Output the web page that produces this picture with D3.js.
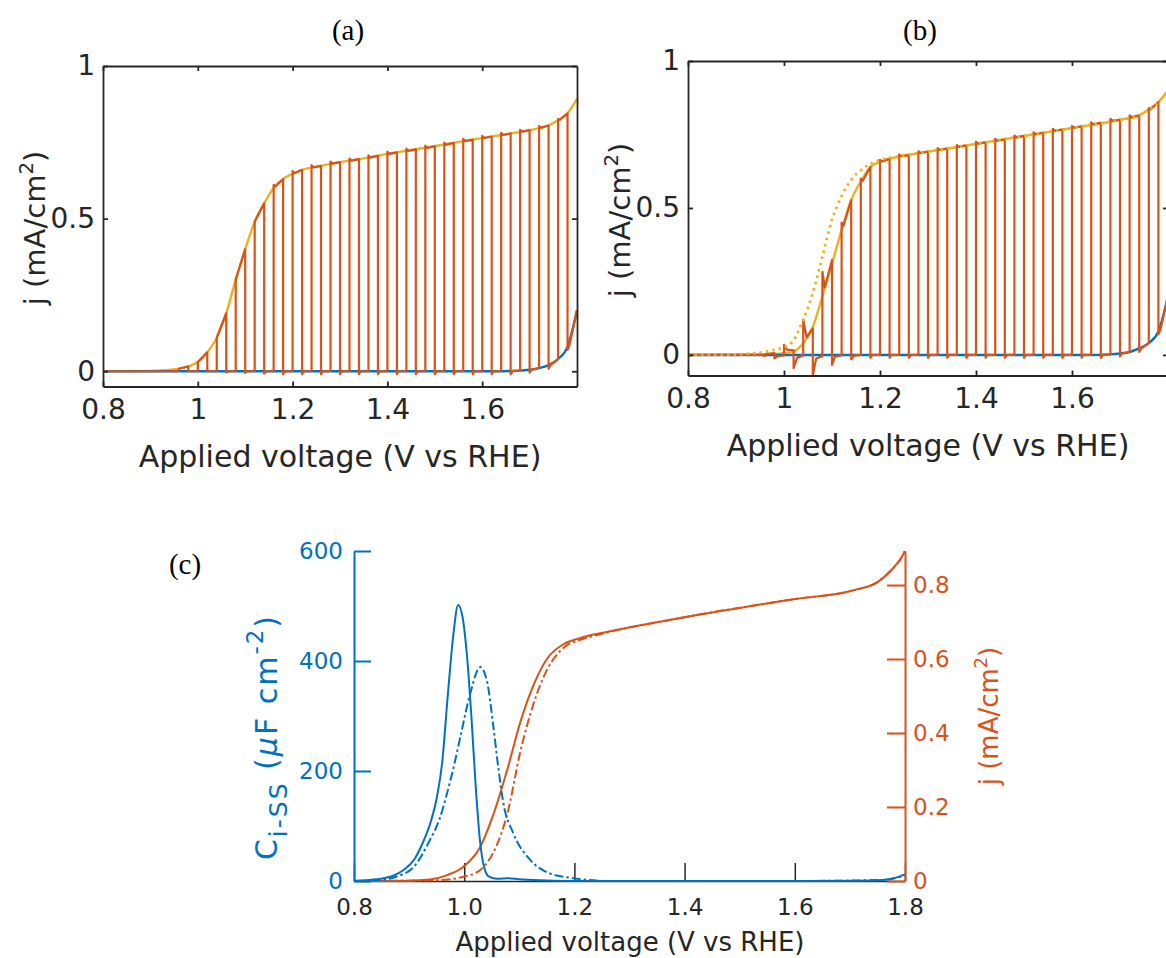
<!DOCTYPE html>
<html>
<head>
<meta charset="utf-8">
<script src="https://cdn.jsdelivr.net/npm/d3@7"></script>
<style>
  body { margin: 0; background: #fff; }
  text { font-family: "DejaVu Sans", "Liberation Sans", sans-serif; }
</style>
</head>
<body>
<svg id="fig" width="1166" height="958"></svg>
<script>
// ---------- Panel (a): chopped-light LSV ----------
const voltA  = [0.80, 0.90, 0.94, 0.96, 0.98, 1.00, 1.02, 1.04, 1.06, 1.08, 1.10, 1.12, 1.14, 1.16, 1.18, 1.20, 1.22, 1.26, 1.30, 1.36, 1.40, 1.48, 1.56, 1.64, 1.70, 1.74, 1.76, 1.78, 1.80];
const lightA = [0, 0.001, 0.004, 0.008, 0.016, 0.03, 0.062, 0.11, 0.19, 0.30, 0.40, 0.49, 0.55, 0.60, 0.63, 0.647, 0.66, 0.673, 0.685, 0.70, 0.712, 0.732, 0.754, 0.774, 0.79, 0.805, 0.822, 0.845, 0.892];
const darkVoltA = [0.80, 1.62, 1.68, 1.70, 1.72, 1.74, 1.76, 1.78, 1.80];
const darkA     = [0, 0, 0.002, 0.005, 0.01, 0.02, 0.04, 0.08, 0.2];
// chopped illumination trace, [V, j] samples
const chopA = [
  [0.80,0],[0.96,0],[0.96,0.008],[0.98,0.016],[0.98,0],
  [1.00,0],[1.00,0.03],[1.02,0.062],[1.02,0],
  [1.04,0],[1.04,0.11],[1.06,0.19],[1.06,-0.004],[1.064,0],
  [1.08,0],[1.08,0.30],[1.10,0.40],[1.10,-0.006],[1.104,0],
  [1.12,0],[1.12,0.49],[1.14,0.55],[1.14,-0.008],[1.144,0],
  [1.16,0],[1.16,0.61],[1.164,0.606],[1.18,0.63],[1.18,-0.01],[1.184,0],
  [1.20,0],[1.20,0.656],[1.204,0.649],[1.22,0.66],[1.22,-0.01],[1.224,0],
  [1.24,0],[1.24,0.675],[1.244,0.668],[1.26,0.673],[1.26,-0.01],[1.264,0],
  [1.28,0],[1.28,0.687],[1.284,0.68],[1.30,0.685],[1.30,-0.01],[1.304,0],
  [1.32,0],[1.32,0.697],[1.324,0.69],[1.34,0.695],[1.34,-0.01],[1.344,0],
  [1.36,0],[1.36,0.707],[1.364,0.70],[1.38,0.706],[1.38,-0.01],[1.384,0],
  [1.40,0],[1.40,0.719],[1.404,0.712],[1.42,0.717],[1.42,-0.01],[1.424,0],
  [1.44,0],[1.44,0.729],[1.444,0.722],[1.46,0.727],[1.46,-0.01],[1.464,0],
  [1.48,0],[1.48,0.739],[1.484,0.732],[1.50,0.737],[1.50,-0.01],[1.504,0],
  [1.52,0],[1.52,0.749],[1.524,0.742],[1.54,0.748],[1.54,-0.01],[1.544,0],
  [1.56,0],[1.56,0.761],[1.564,0.754],[1.58,0.759],[1.58,-0.01],[1.584,0],
  [1.60,0],[1.60,0.771],[1.604,0.764],[1.62,0.769],[1.62,-0.01],[1.624,0],
  [1.64,0],[1.64,0.781],[1.644,0.774],[1.66,0.779],[1.66,-0.01],[1.664,0.001],
  [1.68,0.002],[1.68,0.791],[1.684,0.785],[1.70,0.79],[1.70,-0.005],[1.704,0.005],
  [1.72,0.01],[1.72,0.803],[1.724,0.798],[1.74,0.805],[1.74,0.008],[1.744,0.02],
  [1.76,0.04],[1.76,0.826],[1.764,0.824],[1.78,0.845],[1.78,0.07],[1.784,0.085],
  [1.80,0.2]
];

// ---------- Panel (b): chopped-light LSV with transients ----------
const voltB  = [0.80, 0.94, 0.98, 1.00, 1.02, 1.04, 1.06, 1.08, 1.10, 1.12, 1.14, 1.16, 1.18, 1.20, 1.24, 1.28, 1.34, 1.40, 1.50, 1.60, 1.70, 1.74, 1.76, 1.78, 1.80];
const lightB = [0, 0.001, 0.003, 0.006, 0.012, 0.04, 0.095, 0.2, 0.31, 0.425, 0.527, 0.59, 0.64, 0.657, 0.675, 0.686, 0.702, 0.718, 0.745, 0.772, 0.80, 0.815, 0.835, 0.86, 0.9];
const modelVoltB = [0.80, 0.90, 0.94, 0.96, 0.98, 1.00, 1.02, 1.04, 1.06, 1.08, 1.10, 1.12, 1.14, 1.165, 1.20, 1.24, 1.30, 1.40, 1.50, 1.60, 1.70, 1.74, 1.76, 1.78, 1.80];
const modelB     = [0, 0.002, 0.006, 0.01, 0.017, 0.026, 0.05, 0.12, 0.21, 0.335, 0.46, 0.54, 0.595, 0.635, 0.663, 0.676, 0.692, 0.718, 0.745, 0.772, 0.80, 0.815, 0.835, 0.86, 0.9];
const darkVoltB = [0.80, 1.64, 1.68, 1.70, 1.72, 1.74, 1.76, 1.78, 1.80];
const darkB     = [0, 0, 0.002, 0.005, 0.01, 0.022, 0.04, 0.08, 0.2];
const chopB = [
  [0.80,0],[0.955,0],[0.96,-0.004],[0.962,0.003],[0.98,0.006],[0.98,-0.012],[0.986,-0.004],[1.00,-0.002],
  [1.00,0.034],[1.006,0.018],[1.02,0.016],[1.02,-0.045],[1.027,-0.01],[1.04,-0.002],
  [1.04,0.12],[1.047,0.06],[1.06,0.09],[1.06,-0.068],[1.067,-0.012],[1.08,-0.004],
  [1.08,0.283],[1.085,0.23],[1.10,0.323],[1.10,-0.034],[1.106,-0.006],[1.12,-0.002],
  [1.12,0.45],[1.124,0.44],[1.14,0.527],[1.14,-0.015],[1.145,-0.003],[1.16,0],
  [1.16,0.6],[1.164,0.592],[1.18,0.64],[1.18,-0.01],[1.184,0],
  [1.20,0],[1.20,0.664],[1.204,0.658],[1.22,0.667],[1.22,-0.01],[1.224,0],
  [1.24,0],[1.24,0.682],[1.244,0.676],[1.26,0.68],[1.26,-0.01],[1.264,0],
  [1.28,0],[1.28,0.693],[1.284,0.687],[1.30,0.692],[1.30,-0.01],[1.304,0],
  [1.32,0],[1.32,0.704],[1.324,0.698],[1.34,0.702],[1.34,-0.01],[1.344,0],
  [1.36,0],[1.36,0.714],[1.364,0.708],[1.38,0.713],[1.38,-0.01],[1.384,0],
  [1.40,0],[1.40,0.725],[1.404,0.719],[1.42,0.723],[1.42,-0.01],[1.424,0],
  [1.44,0],[1.44,0.735],[1.444,0.729],[1.46,0.733],[1.46,-0.01],[1.464,0],
  [1.48,0],[1.48,0.746],[1.484,0.74],[1.50,0.745],[1.50,-0.01],[1.504,0],
  [1.52,0],[1.52,0.757],[1.524,0.751],[1.54,0.756],[1.54,-0.01],[1.544,0],
  [1.56,0],[1.56,0.769],[1.564,0.763],[1.58,0.767],[1.58,-0.01],[1.584,0],
  [1.60,0],[1.60,0.779],[1.604,0.773],[1.62,0.778],[1.62,-0.01],[1.624,0],
  [1.64,0],[1.64,0.791],[1.644,0.785],[1.66,0.79],[1.66,-0.01],[1.664,0.001],
  [1.68,0.002],[1.68,0.803],[1.684,0.797],[1.70,0.80],[1.70,-0.005],[1.704,0.005],
  [1.72,0.01],[1.72,0.815],[1.724,0.809],[1.74,0.815],[1.74,0.01],[1.744,0.022],
  [1.76,0.04],[1.76,0.84],[1.764,0.836],[1.78,0.86],[1.78,0.07],[1.784,0.085],
  [1.80,0.2]
];

// ---------- Panel (c): steady-state capacitance and current ----------
const voltC = [0.80, 0.84, 0.87, 0.89, 0.91, 0.925, 0.94, 0.95, 0.96, 0.97, 0.98, 0.989, 0.997, 1.005, 1.013, 1.021, 1.029, 1.037, 1.045, 1.06, 1.08, 1.10, 1.15, 1.20, 1.60, 1.72, 1.76, 1.78, 1.80];
const capC  = [0, 3, 9, 20, 40, 70, 110, 150, 215, 335, 445, 502, 480, 410, 300, 170, 70, 22, 8, 4, 5, 3, 1, 0, 0, 0.5, 2, 5, 12];
const capModelVoltC = [0.80, 0.85, 0.88, 0.908, 0.938, 0.955, 0.969, 0.982, 0.993, 1.011, 1.029, 1.041, 1.053, 1.062, 1.071, 1.089, 1.12, 1.15, 1.198, 1.265, 1.60, 1.76, 1.80];
const capModelC     = [0, 2, 9, 25, 75, 112, 160, 212, 262, 341, 389, 365, 280, 205, 142, 87, 38, 16, 5, 0, 0, 2, 10];
const jVoltC = [0.80, 0.90, 0.938, 0.969, 0.998, 1.029, 1.053, 1.078, 1.102, 1.126, 1.15, 1.18, 1.211, 1.265, 1.40, 1.60, 1.707, 1.75, 1.775, 1.793, 1.80];
const jC     = [0, 0.001, 0.004, 0.016, 0.038, 0.092, 0.18, 0.30, 0.43, 0.53, 0.60, 0.64, 0.657, 0.675, 0.713, 0.762, 0.786, 0.808, 0.84, 0.873, 0.892];
const jModelVoltC = [0.80, 0.95, 1.00, 1.029, 1.06, 1.078, 1.102, 1.126, 1.15, 1.18, 1.211, 1.25, 1.40, 1.60, 1.707, 1.75, 1.775, 1.793, 1.80];
const jModelC     = [0, 0.002, 0.012, 0.03, 0.10, 0.18, 0.35, 0.48, 0.57, 0.63, 0.652, 0.668, 0.713, 0.762, 0.786, 0.808, 0.84, 0.873, 0.892];

// ---------- tick labels ----------
const tickVoltAB = [0.8, 1, 1.2, 1.4, 1.6];
const tickJAB    = [0, 0.5, 1];
const tickVoltC  = [0.8, 1.0, 1.2, 1.4, 1.6, 1.8];
const tickCapC   = [0, 200, 400, 600];
const tickJC     = [0, 0.2, 0.4, 0.6, 0.8];

const BLUE = "#0072BD", ORANGE = "#D95319", YELLOW = "#EDB120", INK = "#262626";
const zip = (xs, ys) => xs.map((v, i) => [v, ys[i]]);

const svg = d3.select("#fig");
svg.append("rect").attr("width", 1166).attr("height", 958).attr("fill", "#fff");

function styleAxis(sel, color, fontSize, width) {
  sel.attr("font-family", null).attr("font-size", null);
  sel.select(".domain").attr("stroke", color).attr("stroke-width", width);
  sel.selectAll(".tick line").attr("stroke", color).attr("stroke-width", width);
  sel.selectAll(".tick text").attr("fill", color).style("font-size", fontSize + "px");
}

function boxPanel(id, x, y) {
  const g = svg.append("g");
  const [x0, x1] = x.range(), [y0, y1] = y.range();
  g.append("clipPath").attr("id", id).append("rect")
    .attr("x", x0).attr("y", y1).attr("width", x1 - x0).attr("height", y0 - y1);
  const plot = g.append("g").attr("clip-path", `url(#${id})`);
  const axes = g.append("g");
  const fmt = d => String(d);
  axes.append("g").attr("transform", `translate(0,${y0})`)
    .call(d3.axisBottom(x).tickValues(tickVoltAB).tickFormat(fmt).tickSizeInner(-5).tickSizeOuter(0).tickPadding(13))
    .call(s => styleAxis(s, INK, 28, 1.8));
  axes.append("g").attr("transform", `translate(0,${y1})`)
    .call(d3.axisTop(x).tickValues(tickVoltAB).tickFormat("").tickSizeInner(-5).tickSizeOuter(0))
    .call(s => styleAxis(s, INK, 28, 1.8));
  axes.append("g").attr("transform", `translate(${x0},0)`)
    .call(d3.axisLeft(y).tickValues(tickJAB).tickFormat(fmt).tickSizeInner(-5).tickSizeOuter(0).tickPadding(8))
    .call(s => styleAxis(s, INK, 28, 1.8));
  axes.append("g").attr("transform", `translate(${x1},0)`)
    .call(d3.axisRight(y).tickValues(tickJAB).tickFormat("").tickSizeInner(-5).tickSizeOuter(0))
    .call(s => styleAxis(s, INK, 28, 1.8));
  return plot;
}

function drawLine(g, pts, x, y, color, width, curve, dash) {
  const p = g.append("path")
    .attr("d", d3.line().x(d => x(d[0])).y(d => y(d[1])).curve(curve)(pts))
    .attr("fill", "none").attr("stroke", color).attr("stroke-width", width)
    .attr("stroke-linejoin", "round");
  if (dash) p.attr("stroke-dasharray", dash);
  return p;
}

function jLabel(x, y, size, color) {
  const t = svg.append("text").attr("transform", `translate(${x},${y}) rotate(-90)`)
    .attr("text-anchor", "middle").attr("fill", color).style("font-size", size + "px");
  t.append("tspan").text("j (mA/cm");
  t.append("tspan").attr("dy", -size * 0.42).style("font-size", (size * 0.68) + "px").text("2");
  t.append("tspan").attr("dy", size * 0.42).text(")");
}

function title(x, y, s) {
  svg.append("text").attr("x", x).attr("y", y).attr("text-anchor", "middle")
    .style("font-family", "'Liberation Serif', 'Times New Roman', serif").style("font-size", "29px")
    .attr("fill", "#000").text(s);
}

// ----- (a) -----
const xA = d3.scaleLinear().domain([0.8, 1.8]).range([103, 577]);
const yA = d3.scaleLinear().domain([-0.05, 1]).range([386.5, 66]);
const pa = boxPanel("clipA", xA, yA);
drawLine(pa, zip(voltA, lightA), xA, yA, YELLOW, 2.4, d3.curveMonotoneX);
drawLine(pa, zip(darkVoltA, darkA), xA, yA, BLUE, 2.4, d3.curveMonotoneX);
drawLine(pa, chopA, xA, yA, ORANGE, 2.2, d3.curveLinear);
title(348, 40, "(a)");
jLabel(45, 228, 29, INK);
svg.append("text").attr("x", 340).attr("y", 467).attr("text-anchor", "middle")
  .attr("fill", INK).style("font-size", "30px").text("Applied voltage (V vs RHE)");

// ----- (b) -----
const xB = d3.scaleLinear().domain([0.8, 1.8]).range([688, 1168]);
const yB = d3.scaleLinear().domain([-0.07, 1]).range([375.5, 61]);
const pb = boxPanel("clipB", xB, yB);
drawLine(pb, zip(voltB, lightB), xB, yB, YELLOW, 2.4, d3.curveMonotoneX);
drawLine(pb, zip(darkVoltB, darkB), xB, yB, BLUE, 2.4, d3.curveMonotoneX);
drawLine(pb, chopB, xB, yB, ORANGE, 2.2, d3.curveLinear);
drawLine(pb, zip(modelVoltB, modelB), xB, yB, YELLOW, 2.8, d3.curveMonotoneX, "2.5 4");
title(920, 40, "(b)");
jLabel(630, 220, 29, INK);
svg.append("text").attr("x", 928).attr("y", 456).attr("text-anchor", "middle")
  .attr("fill", INK).style("font-size", "30px").text("Applied voltage (V vs RHE)");

// ----- (c) -----
const xC  = d3.scaleLinear().domain([0.8, 1.8]).range([354, 905]);
const yCl = d3.scaleLinear().domain([0, 600]).range([881, 551]);
const yCr = d3.scaleLinear().domain([0, d3.max(jC)]).range([881, 551]);
const gc = svg.append("g");
gc.append("g").attr("transform", "translate(0,881)")
  .call(d3.axisBottom(xC).tickValues(tickVoltC).tickFormat(d3.format(".1f")).tickSizeInner(-18).tickSizeOuter(0).tickPadding(18))
  .call(s => styleAxis(s, INK, 23, 1.5));
const dash = "9 3 2.5 3";
drawLine(gc, zip(jModelVoltC, jModelC), xC, yCr, ORANGE, 2, d3.curveMonotoneX, dash);
drawLine(gc, zip(jVoltC, jC), xC, yCr, ORANGE, 2, d3.curveMonotoneX);
drawLine(gc, zip(capModelVoltC, capModelC), xC, yCl, BLUE, 2, d3.curveMonotoneX, dash);
drawLine(gc, zip(voltC, capC), xC, yCl, BLUE, 2, d3.curveMonotoneX);
gc.append("g").attr("transform", "translate(354,0)")
  .call(d3.axisLeft(yCl).tickValues(tickCapC).tickFormat(d3.format("d")).tickSizeInner(-17).tickSizeOuter(0).tickPadding(11))
  .call(s => styleAxis(s, BLUE, 23, 2));
gc.append("g").attr("transform", "translate(905,0)")
  .call(d3.axisRight(yCr).tickValues(tickJC).tickFormat(d => String(d)).tickSizeInner(-18).tickSizeOuter(0).tickPadding(8))
  .call(s => styleAxis(s, ORANGE, 23, 2));
title(185, 574, "(c)");
svg.append("text").attr("x", 630).attr("y", 951).attr("text-anchor", "middle")
  .attr("fill", INK).style("font-size", "26px").text("Applied voltage (V vs RHE)");
// left axis label: C_i-SS (μF cm^-2)
{
  const t = svg.append("text").attr("transform", "translate(277,737) rotate(-90)")
    .attr("text-anchor", "middle").attr("fill", BLUE).style("font-size", "30px")
    .style("letter-spacing", "2px");
  t.append("tspan").text("C");
  t.append("tspan").attr("dy", 10).style("font-size", "25px").text("i-SS");
  t.append("tspan").attr("dy", -10).text(" (");
  t.append("tspan").style("font-style", "italic").text("\u03BC");
  t.append("tspan").text("F cm");
  t.append("tspan").attr("dy", -14).style("font-size", "23px").text("-2");
  t.append("tspan").attr("dy", 14).text(")");
}
jLabel(998, 716, 26, ORANGE);
</script>
</body>
</html>
